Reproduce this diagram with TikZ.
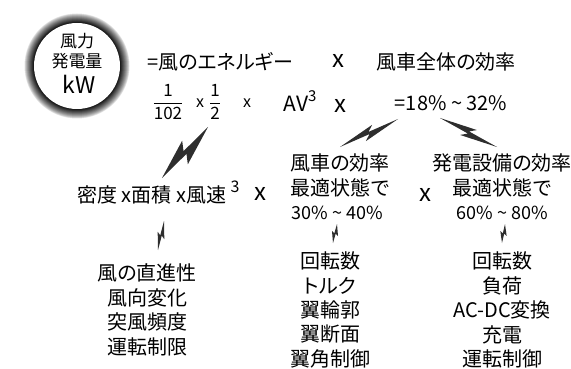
\documentclass[tikz,border=0pt]{standalone}
\usepackage{amsmath}
\usepackage{fontspec}
\setmainfont{Noto Sans CJK JP}[RawFeature=+palt]
\usetikzlibrary{positioning, calc}

\definecolor{boltgray}{HTML}{2E2E2E}

% zigzag bolt: tail, head, half width (pt)
\newcommand{\zap}[3]{%
  \fill[boltgray] (#1)
    -- ($(#1)!0.6!(#2)!#3pt!90:(#2)$)
    -- ($(#1)!0.5!(#2)!{0.2*#3pt}!90:(#2)$)
    -- (#2)
    -- ($(#1)!0.4!(#2)!#3pt!-90:(#2)$)
    -- ($(#1)!0.5!(#2)!{0.2*#3pt}!-90:(#2)$)
    -- cycle;}

\begin{document}
\begin{tikzpicture}[
    x=1pt, y=-1pt,
    txt/.style={font=\fontsize{20}{20}\selectfont, inner sep=0pt},
    pct/.style={font=\fontsize{18}{18}\selectfont, inner sep=0pt},
    sml/.style={font=\fontsize{16}{16}\selectfont, inner sep=0pt},
    mul/.style={font=\fontsize{24}{24}\selectfont, inner sep=0pt},
    hubtxt/.style={font=\fontsize{17}{17}\selectfont, inner sep=0pt}
]
    \useasboundingbox (0,0) rectangle (571,369);

    % --- Circle ---
    \coordinate (hubc) at (77,66);
    \foreach \r [evaluate=\r as \p using {95*((53-\r)/10)^0.75}] in {53,52.5,...,43}
        \fill[black!\p] (hubc) circle (\r);
    \node[circle, fill=white, minimum size=86, inner sep=0pt] (hub) at (hubc) {};
    \node[hubtxt] (hubA) at (77,41) {風力};
    \node[hubtxt] (hubB) at (77,61) {発電量};
    \node[font=\fontsize{23}{23}\selectfont, inner sep=0pt] (hubC) at (79,84) {kW};

    % --- Top line ---
    \node[txt, anchor=west] (energy) at (147,62) {=風のエネルギー};
    \node[mul] (times1) at (338,61) {x};
    \node[txt] (eff) at (446,62) {風車全体の効率};

    % --- Formula line ---
    \node[font=\fontsize{17}{17}\selectfont, inner sep=0pt] (k1) at (168,102) {$\dfrac{\text{1}}{\text{102}}$};
    \node[sml] (times2) at (200,103) {x};
    \node[font=\fontsize{17}{17}\selectfont, inner sep=0pt] (k2) at (215,102) {$\dfrac{\text{1}}{\text{2}}$};
    \node[sml] (times3) at (247,103) {x};
    \node[font=\fontsize{21}{21}\selectfont, inner sep=0pt] (av) at (300,101)
        {AV\raisebox{0.45em}{\fontsize{15}{15}\selectfont 3}};
    \node[mul] (times4) at (340,106) {x};
    \node[font=\fontsize{20}{20}\selectfont, inner sep=0pt] (range) at (451,103) {=18\% \textasciitilde{} 32\%};

    % --- Third line ---
    \node[txt, anchor=west] (dens) at (77,195) {密度 x面積 x風速};
    \node[sml] (cube) at (235,187) {3};
    \node[mul] (times5) at (260,194) {x};

    \node[txt] (rotor) at (340,163) {風車の効率};
    \node[txt] (rotorbest) at (340,188) {最適状態で};
    \node[pct] (rotorpct) at (337,213) {30\% \textasciitilde{} 40\%};
    \node[mul] (times6) at (425,195) {x};
    \node[txt] (gen) at (502,163) {発電設備の効率};
    \node[txt] (genbest) at (502,188) {最適状態で};
    \node[pct] (genpct) at (502,213) {60\% \textasciitilde{} 80\%};

    % --- Factor lists ---
    \foreach \item [count=\i] in {風の直進性, 風向変化, 突風頻度, 運転制限}
        \node[txt] (wind\i) at (147,{273+24.5*(\i-1)}) {\item};
    \foreach \item [count=\i] in {回転数, トルク, 翼輪郭, 翼断面, 翼角制御}
        \node[txt] (blade\i) at (330,{261+24.5*(\i-1)}) {\item};
    \foreach \item [count=\i] in {回転数, 負荷, AC-DC変換, 充電, 運転制御}
        \node[txt] (elec\i) at (502,{261+24.5*(\i-1)}) {\item};

    % --- Bolts ---
    \coordinate (b1t) at (162,178);  \coordinate (b1h) at (208,127);
    \coordinate (b2t) at (340,147);  \coordinate (b2h) at (398,119);
    \coordinate (b3t) at (497,147);  \coordinate (b3h) at (440,118);
    \coordinate (b4t) at (158,250);  \coordinate (b4h) at (164,221);
    \coordinate (b5t) at (333,243);  \coordinate (b5h) at (337,224);
    \coordinate (b6t) at (502,243);  \coordinate (b6h) at (505,224);
    \zap{b1t}{b1h}{10}
    \zap{b2t}{b2h}{6}
    \zap{b3t}{b3h}{6}
    \zap{b4t}{b4h}{4}
    \zap{b5t}{b5h}{3.5}
    \zap{b6t}{b6h}{3.5}

\end{tikzpicture}
\end{document}
